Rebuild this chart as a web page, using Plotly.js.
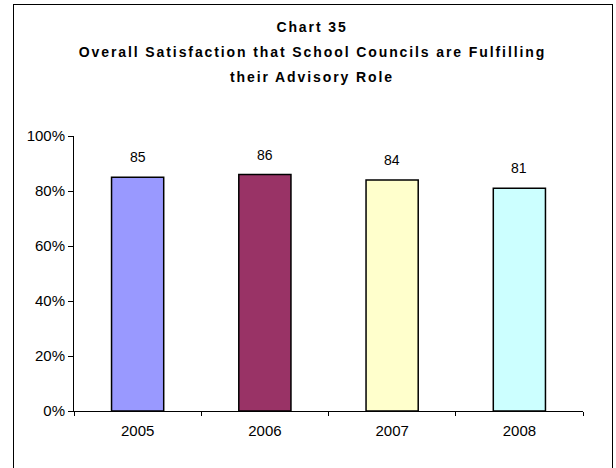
<!DOCTYPE html>
<html>
<head>
<meta charset="utf-8">
<script src="https://cdn.plot.ly/plotly-3.0.1.min.js"></script>
<style>
  html, body { margin: 0; padding: 0; background: #fff; }
  #wrap { position: relative; width: 616px; height: 468px; overflow: hidden; }
  #chart { position: absolute; left: 0; top: 0; width: 616px; height: 468px; }
  #frame { position: absolute; left: 13px; top: 4px; width: 600px; height: 480px;
           border: 1px solid #000; pointer-events: none; box-sizing: border-box; }
</style>
</head>
<body>
<div id="wrap"><div id="chart"></div><div id="frame"></div></div>
<script>
const years = ['2005', '2006', '2007', '2008'];
const values = [85, 86, 84, 81];
const barColors = ['#9999FF', '#993366', '#FFFFCC', '#CCFFFF'];
const titleLines = ['Chart 35', 'Overall Satisfaction that School Councils are Fulfilling', 'their Advisory Role'];

const W = 616, H = 468;
const M = { l: 74, r: 33, t: 136, b: 57 };
const plotH = H - M.t - M.b;
const plotW = W - M.l - M.r;
const font = 'Liberation Sans';

const trace = {
  type: 'bar',
  x: years,
  y: values.map(v => v / 100),
  marker: { color: barColors, line: { color: '#000', width: 1.5 } },
  width: 0.41,
  hoverinfo: 'skip'
};

const annotations = [];
values.forEach((v, i) => {
  annotations.push({
    x: i, y: v / 100, xref: 'x', yref: 'y',
    text: String(v), showarrow: false, yanchor: 'middle', yshift: 20,
    font: { family: font, size: 14, color: '#000' }
  });
});
const baselines = [33, 58, 83];
titleLines.forEach((t, i) => {
  annotations.push({
    x: (312 - M.l) / plotW, xref: 'paper',
    y: (H - M.b - baselines[i]) / plotH, yref: 'paper',
    yanchor: 'bottom', yshift: -4,
    text: '<b>' + t + '</b>', showarrow: false,
    font: { family: font, size: 14, color: '#000' }
  });
});

const layout = {
  width: W, height: H,
  margin: M,
  paper_bgcolor: '#fff', plot_bgcolor: '#fff',
  showlegend: false,
  xaxis: {
    type: 'category', showgrid: false, zeroline: false,
    showline: true, linecolor: '#000', linewidth: 1,
    ticks: 'outside', tickson: 'boundaries', ticklen: 4, tickcolor: '#000',
    tickfont: { family: font, size: 15, color: '#000' },
    ticklabelstandoff: 6,
    fixedrange: true
  },
  yaxis: {
    range: [0, 1], dtick: 0.2, tickformat: '.0%',
    showgrid: false, zeroline: false,
    showline: true, linecolor: '#000', linewidth: 1,
    ticks: 'outside', ticklen: 5, tickcolor: '#000',
    tickfont: { family: font, size: 15, color: '#000' },
    fixedrange: true
  },
  annotations: annotations
};

Plotly.newPlot('chart', [trace], layout, { staticPlot: true, displayModeBar: false }).then(() => {
  document.querySelectorAll('#chart .annotation').forEach(g => {
    const idx = +g.getAttribute('data-index');
    if (idx >= values.length) {
      g.querySelectorAll('text').forEach(t => { t.style.letterSpacing = '1.9px'; });
    }
  });
});
</script>
</body>
</html>
